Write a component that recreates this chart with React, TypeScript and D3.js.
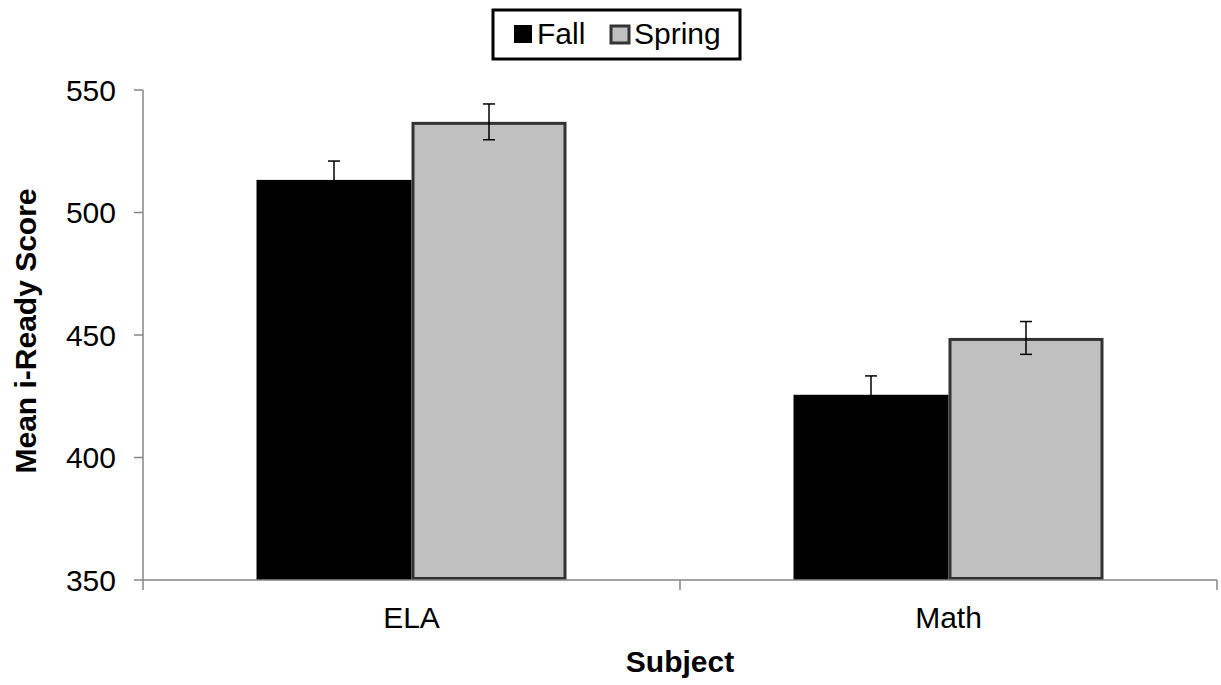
import React from "react";
import * as d3 from "d3";

const categories = ["ELA", "Math"];
const seriesNames = ["Fall", "Spring"];
const fallValues = [513.3, 425.6];
const springValues = [537.0, 448.8];
const fallErrors = [7.7, 7.7];
const springErrors = [7.3, 6.7];
const yTicks = [350, 400, 450, 500, 550];

const W = 1221;
const H = 685;
const left = 143;
const right = 1217;
const top = 90;
const bottom = 580;
const font = "'Liberation Sans', Arial, sans-serif";
const fs = 30;

export default function App() {
  const y = d3.scaleLinear().domain([350, 550]).range([bottom, top]);
  const x0 = d3.scaleBand().domain(categories).range([left, right]).paddingInner(0).paddingOuter(0);
  const bw = x0.bandwidth();
  const barW = 155;
  const x1 = d3.scaleBand().domain(seriesNames).range([bw / 2 - barW, bw / 2 + barW]).padding(0);
  const series = [
    { name: "Fall", values: fallValues, errs: fallErrors, fill: "#000000", stroke: "#000000", sw: 0 },
    { name: "Spring", values: springValues, errs: springErrors, fill: "#C0C0C0", stroke: "#333333", sw: 3 },
  ];
  const axisColor = "#868686";
  return (
    <svg width={W} height={H} style={{ display: "block", position: "absolute", left: 0, top: 0 }} fontFamily={font}>
      <rect width={W} height={H} fill="#fff" />
      {/* y axis */}
      <line x1={left} x2={left} y1={top} y2={bottom} stroke={axisColor} strokeWidth={1.5} />
      {yTicks.map((t) => (
        <g key={t}>
          <line x1={left - 9} x2={left} y1={y(t)} y2={y(t)} stroke={axisColor} strokeWidth={1.5} />
          <text x={116} y={y(t)} dy="0.35em" textAnchor="end" fontSize={fs} fill="#000">{t}</text>
        </g>
      ))}
      {/* bars */}
      {series.map((s) =>
        categories.map((c, i) => {
          const bx = (x0(c) as number) + (x1(s.name) as number);
          const by = y(s.values[i]);
          const inset = s.sw / 2;
          return (
            <rect key={s.name + c} x={bx + inset} y={by + inset} width={barW - s.sw} height={bottom - by - s.sw}
              fill={s.fill} stroke={s.sw ? s.stroke : "none"} strokeWidth={s.sw} />
          );
        })
      )}
      {/* error bars */}
      {series.map((s) =>
        categories.map((c, i) => {
          const cx = (x0(c) as number) + (x1(s.name) as number) + barW / 2;
          const yt = y(s.values[i] + s.errs[i]);
          const yb = y(s.values[i] - s.errs[i]);
          return (
            <g key={"e" + s.name + c} stroke="#000" strokeWidth={1.5}>
              <line x1={cx} x2={cx} y1={yt} y2={yb} />
              <line x1={cx - 6} x2={cx + 6} y1={yt} y2={yt} />
              <line x1={cx - 6} x2={cx + 6} y1={yb} y2={yb} />
            </g>
          );
        })
      )}
      {/* x axis */}
      <line x1={left} x2={right} y1={bottom} y2={bottom} stroke={axisColor} strokeWidth={1.5} />
      {[left, ...categories.map((c) => (x0(c) as number) + bw)].map((tx, i) => (
        <line key={i} x1={tx} x2={tx} y1={bottom} y2={bottom + 10} stroke={axisColor} strokeWidth={1.5} />
      ))}
      {categories.map((c) => (
        <text key={c} x={(x0(c) as number) + bw / 2} y={628} textAnchor="middle" fontSize={fs} fill="#000">{c}</text>
      ))}
      {/* axis titles */}
      <text x={680} y={672} textAnchor="middle" fontSize={fs} fontWeight="bold" fill="#000">Subject</text>
      <text transform={`translate(36,331) rotate(-90)`} textAnchor="middle" fontSize={fs} fontWeight="bold" fill="#000">Mean i-Ready Score</text>
      {/* legend */}
      <rect x={493} y={10} width={247} height={49} fill="#fff" stroke="#000" strokeWidth={3} />
      <rect x={514} y={25} width={18} height={18} fill="#000" />
      <text x={537} y={44} fontSize={fs} fill="#000">Fall</text>
      <rect x={611} y={26} width={18} height={17} fill="#C0C0C0" stroke="#333" strokeWidth={3} />
      <text x={634} y={44} fontSize={fs} fill="#000">Spring</text>
    </svg>
  );
}
